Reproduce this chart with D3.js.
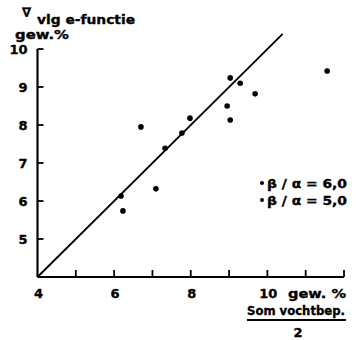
<!DOCTYPE html>
<html>
<head>
<meta charset="utf-8">
<script src="https://cdn.jsdelivr.net/npm/d3@7"></script>
<style>
  html, body { margin: 0; padding: 0; background: #fff; }
  svg { display: block; }
  text { font-family: "DejaVu Sans", sans-serif; font-weight: bold; fill: #000; stroke: #000; stroke-width: 0.35; }
</style>
</head>
<body>
<svg id="chart" width="356" height="340"></svg>
<script>
// Measured moisture (x) against the e-function estimate (y), both in gew. %
const seriesA_x = [6.70, 6.18, 7.33, 7.77, 7.98, 9.03, 9.29];   // β/α = 6,0
const seriesA_y = [7.95, 6.13, 7.39, 7.79, 8.18, 9.24, 9.10];
const seriesB_x = [6.23, 7.09, 8.95, 9.03, 9.68, 11.56];        // β/α = 5,0
const seriesB_y = [5.74, 6.32, 8.50, 8.13, 8.82, 9.42];

const xTicks = [5, 6, 7, 8, 9, 10, 11, 12];
const xTickLabels = [4, 6, 8, 10];
const yTicks = [5, 6, 7, 8, 9, 10];
const yTickLabels = [5, 6, 7, 8, 9, 10];
const equalityLine = [4, 10.4];   // y = x reference line
const legendLabels = ["β / α = 6,0", "β / α = 5,0"];

const svg = d3.select("#chart");

const x = d3.scaleLinear().domain([4, 12]).range([37.5, 344]);
const y = d3.scaleLinear().domain([4, 10]).range([277, 49]);

// axes: thick lines with inward ticks
const axisStroke = 2.2;
svg.append("line")
  .attr("x1", x(4)).attr("y1", y(4)).attr("x2", x(12)).attr("y2", y(4))
  .attr("stroke", "#000").attr("stroke-width", axisStroke);
svg.append("line")
  .attr("x1", x(4)).attr("y1", y(4)).attr("x2", x(4)).attr("y2", y(10))
  .attr("stroke", "#000").attr("stroke-width", axisStroke);

svg.selectAll(".xtick").data(xTicks).enter().append("line")
  .attr("x1", d => x(d)).attr("x2", d => x(d))
  .attr("y1", y(4)).attr("y2", y(4) - 7)
  .attr("stroke", "#000").attr("stroke-width", 1.8);

svg.selectAll(".ytick").data(yTicks).enter().append("line")
  .attr("x1", x(4)).attr("x2", x(4) + 6)
  .attr("y1", d => y(d)).attr("y2", d => y(d))
  .attr("stroke", "#000").attr("stroke-width", 1.8);

svg.selectAll(".xlab").data(xTickLabels).enter().append("text")
  .attr("x", d => x(d) + 1).attr("y", 298)
  .attr("text-anchor", "middle").attr("font-size", 13)
  .text(d => d);

svg.selectAll(".ylab").data(yTickLabels).enter().append("text")
  .attr("x", x(4) - 10).attr("y", d => y(d) + 5)
  .attr("text-anchor", "end").attr("font-size", 13)
  .text(d => d);

// y = x line
svg.append("line")
  .attr("x1", x(equalityLine[0])).attr("y1", y(equalityLine[0]))
  .attr("x2", x(equalityLine[1])).attr("y2", y(equalityLine[1]))
  .attr("stroke", "#000").attr("stroke-width", 1.8);

// data points
const ptsA = seriesA_x.map((v, i) => [v, seriesA_y[i]]);
const ptsB = seriesB_x.map((v, i) => [v, seriesB_y[i]]);
svg.selectAll(".pa").data(ptsA).enter().append("circle")
  .attr("cx", d => x(d[0])).attr("cy", d => y(d[1])).attr("r", 2.8).attr("fill", "#000");
svg.selectAll(".pb").data(ptsB).enter().append("circle")
  .attr("cx", d => x(d[0])).attr("cy", d => y(d[1])).attr("r", 2.8).attr("fill", "#000");

// y-axis title
svg.append("text").attr("x", 22).attr("y", 17).attr("font-size", 13).text("∇");
svg.append("text").attr("x", 37).attr("y", 24).attr("font-size", 13)
  .attr("textLength", 98).attr("lengthAdjust", "spacingAndGlyphs").text("vlg e-functie");
svg.append("text").attr("x", 15).attr("y", 39).attr("font-size", 13)
  .attr("textLength", 54).attr("lengthAdjust", "spacingAndGlyphs").text("gew.%");

// x-axis title
svg.append("text").attr("x", 288).attr("y", 298).attr("font-size", 13)
  .attr("textLength", 58).attr("lengthAdjust", "spacingAndGlyphs").text("gew. %");
svg.append("text").attr("x", 247).attr("y", 315).attr("font-size", 13)
  .attr("textLength", 98).attr("lengthAdjust", "spacingAndGlyphs").text("Som vochtbep.");
svg.append("line").attr("x1", 247).attr("x2", 346).attr("y1", 320).attr("y2", 320)
  .attr("stroke", "#000").attr("stroke-width", 2);
svg.append("text").attr("x", 298).attr("y", 337).attr("text-anchor", "middle")
  .attr("font-size", 13).text("2");

// legend
const legend = svg.selectAll(".leg").data(legendLabels).enter().append("g")
  .attr("transform", (d, i) => `translate(262, ${183 + i * 17})`);
legend.append("circle").attr("cx", 0).attr("cy", 0).attr("r", 2).attr("fill", "#000");
legend.append("text").attr("x", 5).attr("y", 5).attr("font-size", 12)
  .attr("textLength", 80).attr("lengthAdjust", "spacingAndGlyphs").text(d => d);
</script>
</body>
</html>
